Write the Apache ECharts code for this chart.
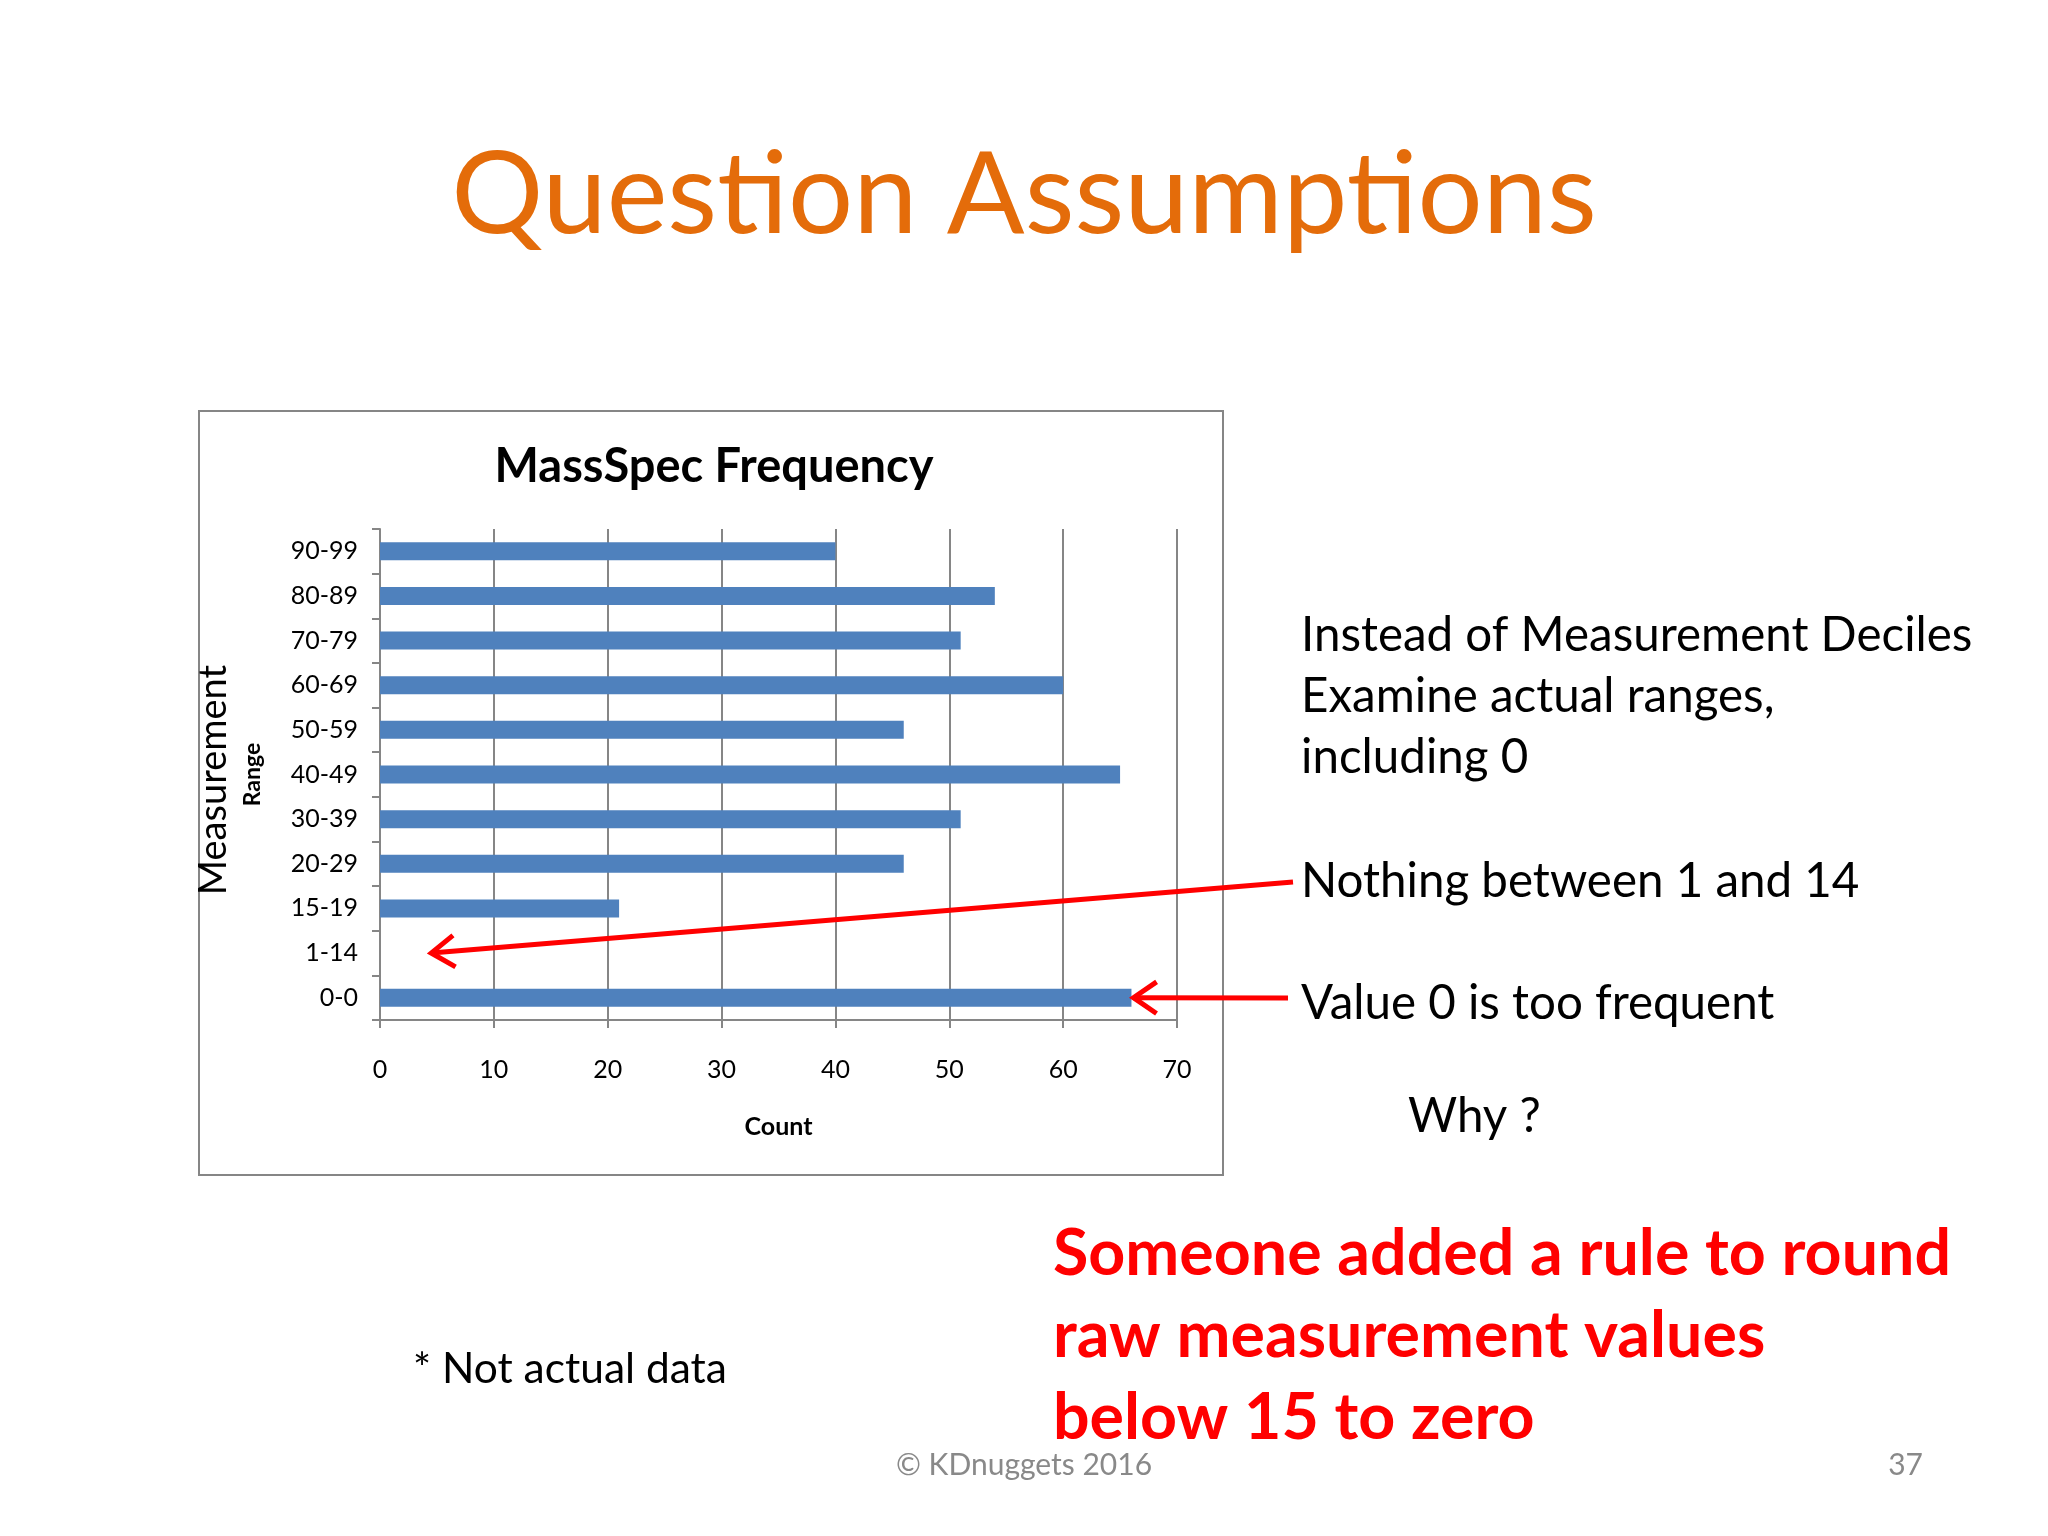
<!DOCTYPE html>
<html>
<head>
<meta charset="utf-8">
<script src="https://cdn.jsdelivr.net/npm/echarts@6/dist/echarts.min.js"></script>
<style>
html,body{margin:0;padding:0;background:#fff;}
#main{width:2048px;height:1536px;}
</style>
</head>
<body>
<div id="main"></div>
<script>
// ---- data ----
var categories = ['0-0', '1-14', '15-19', '20-29', '30-39', '40-49', '50-59', '60-69', '70-79', '80-89', '90-99'];
var counts = [66, 0, 21, 46, 51, 65, 46, 60, 51, 54, 40];
var xTicks = [0, 10, 20, 30, 40, 50, 60, 70];
var chartTitle = 'MassSpec Frequency';
var xName = 'Count';
var yName = 'Range';
var slideTitle = 'Question Assumptions';
var notes = ['Instead of Measurement Deciles', 'Examine actual ranges,', 'including 0'];
var arrowNotes = ['Nothing between 1 and 14', 'Value 0 is too frequent'];
var redLines = ['Someone added a rule to round', 'raw measurement values', 'below 15 to zero'];

var chart = echarts.init(document.getElementById('main'));
var slideFont = 'Lato';
var axisFont = 'Lato';

var option = {
  backgroundColor: '#ffffff',
  animation: false,
  title: {
    text: chartTitle,
    left: 709, top: 462, textAlign: 'center', textVerticalAlign: 'middle',
    textStyle: {fontFamily: slideFont, fontWeight: 'bold', fontSize: 47, color: '#000'}
  },
  grid: {left: 380, right: 871, top: 529, bottom: 516, containLabel: false},
  xAxis: {
    type: 'value', min: xTicks[0], max: xTicks[xTicks.length - 1], interval: 10,
    name: xName, nameLocation: 'middle', nameGap: 94,
    nameTextStyle: {fontFamily: axisFont, fontWeight: 'bold', fontSize: 25, color: '#000'},
    axisLine: {show: true, lineStyle: {color: '#868686', width: 2}},
    axisTick: {show: true, length: 8, lineStyle: {color: '#868686', width: 2}},
    axisLabel: {margin: 37, fontFamily: axisFont, fontSize: 25, color: '#000',
      formatter: function (v) { return xTicks.indexOf(v) >= 0 ? String(v) : ''; }},
    splitLine: {show: true, lineStyle: {color: '#868686', width: 2}}
  },
  yAxis: {
    type: 'category', data: categories,
    name: yName, nameLocation: 'middle', nameGap: 116, nameRotate: 90,
    nameTextStyle: {fontFamily: axisFont, fontWeight: 'bold', fontSize: 23, color: '#000'},
    axisLine: {show: true, lineStyle: {color: '#868686', width: 2}},
    axisTick: {show: true, length: 8, alignWithLabel: false, lineStyle: {color: '#868686', width: 2}},
    axisLabel: {margin: 22, fontFamily: axisFont, fontSize: 25, color: '#000'},
    splitLine: {show: false}
  },
  series: [{
    type: 'bar', data: counts, barWidth: 18,
    itemStyle: {color: '#4F81BD'}
  }],
  graphic: []
};
chart.setOption(option);

// slide decorations
var g = [];
g.push({type: 'rect', shape: {x: 199, y: 411, width: 1024, height: 764},
  style: {fill: 'none', stroke: '#868686', lineWidth: 2}, z: -1});
g.push({type: 'text', style: {text: slideTitle, x: 1024, y: 196, textAlign: 'center', textVerticalAlign: 'middle',
  fontFamily: slideFont, fontSize: 115, fill: '#E46C0A'}});
g.push({type: 'text', rotation: Math.PI / 2, x: 214, y: 780, style: {text: 'Measurement', x: 0, y: 0,
  textAlign: 'center', textVerticalAlign: 'middle', fontFamily: slideFont, fontSize: 38, fill: '#000'}});
var noteSize = 47.5;
for (var i = 0; i < notes.length; i++) {
  g.push({type: 'text', style: {text: notes[i], x: 1301, y: 636 + i * 61, textAlign: 'left', textVerticalAlign: 'middle',
    fontFamily: slideFont, fontSize: noteSize, fill: '#000'}});
}
g.push({type: 'text', style: {text: arrowNotes[0], x: 1301, y: 882, textAlign: 'left', textVerticalAlign: 'middle',
  fontFamily: slideFont, fontSize: noteSize, fill: '#000'}});
g.push({type: 'text', style: {text: arrowNotes[1], x: 1301, y: 1004, textAlign: 'left', textVerticalAlign: 'middle',
  fontFamily: slideFont, fontSize: noteSize, fill: '#000'}});
g.push({type: 'text', style: {text: 'Why ?', x: 1408, y: 1117, textAlign: 'left', textVerticalAlign: 'middle',
  fontFamily: slideFont, fontSize: noteSize, fill: '#000'}});
for (var j = 0; j < redLines.length; j++) {
  g.push({type: 'text', style: {text: redLines[j], x: 1053, y: 1254 + j * 82, textAlign: 'left', textVerticalAlign: 'middle',
    fontFamily: slideFont, fontWeight: 'bold', fontSize: 64.5, fill: '#FF0000'}});
}
g.push({type: 'text', style: {text: '* Not actual data', x: 413, y: 1369, textAlign: 'left', textVerticalAlign: 'middle',
  fontFamily: slideFont, fontSize: 42.5, fill: '#000'}});
g.push({type: 'text', style: {text: '\u00A9 KDnuggets 2016', x: 1024, y: 1465, textAlign: 'center', textVerticalAlign: 'middle',
  fontFamily: slideFont, fontSize: 30, fill: '#898989'}});
g.push({type: 'text', style: {text: '37', x: 1923, y: 1465, textAlign: 'right', textVerticalAlign: 'middle',
  fontFamily: slideFont, fontSize: 30, fill: '#898989'}});

function arrow(tail, tip) {
  var dx = tail[0] - tip[0], dy = tail[1] - tip[1];
  var L = Math.sqrt(dx * dx + dy * dy);
  var ux = dx / L, uy = dy / L;
  var hl = 28, ang = 0.6;
  var c = Math.cos(ang), s = Math.sin(ang);
  var a1 = [tip[0] + hl * (ux * c - uy * s), tip[1] + hl * (ux * s + uy * c)];
  var a2 = [tip[0] + hl * (ux * c + uy * s), tip[1] + hl * (-ux * s + uy * c)];
  g.push({type: 'polyline', shape: {points: [tail, tip]}, style: {stroke: '#FF0000', lineWidth: 5, fill: 'none'}, z: 10});
  g.push({type: 'polyline', shape: {points: [a1, tip, a2]}, style: {stroke: '#FF0000', lineWidth: 5, fill: 'none', lineJoin: 'miter'}, z: 10});
}
var tip1 = chart.convertToPixel({gridIndex: 0}, [4.5, '1-14']);
var tip2 = chart.convertToPixel({gridIndex: 0}, [counts[0], '0-0']);
arrow([1293, 882], tip1);
arrow([1288, 998], [tip2[0] + 2, tip2[1]]);

chart.setOption({graphic: g});
</script>
</body>
</html>
